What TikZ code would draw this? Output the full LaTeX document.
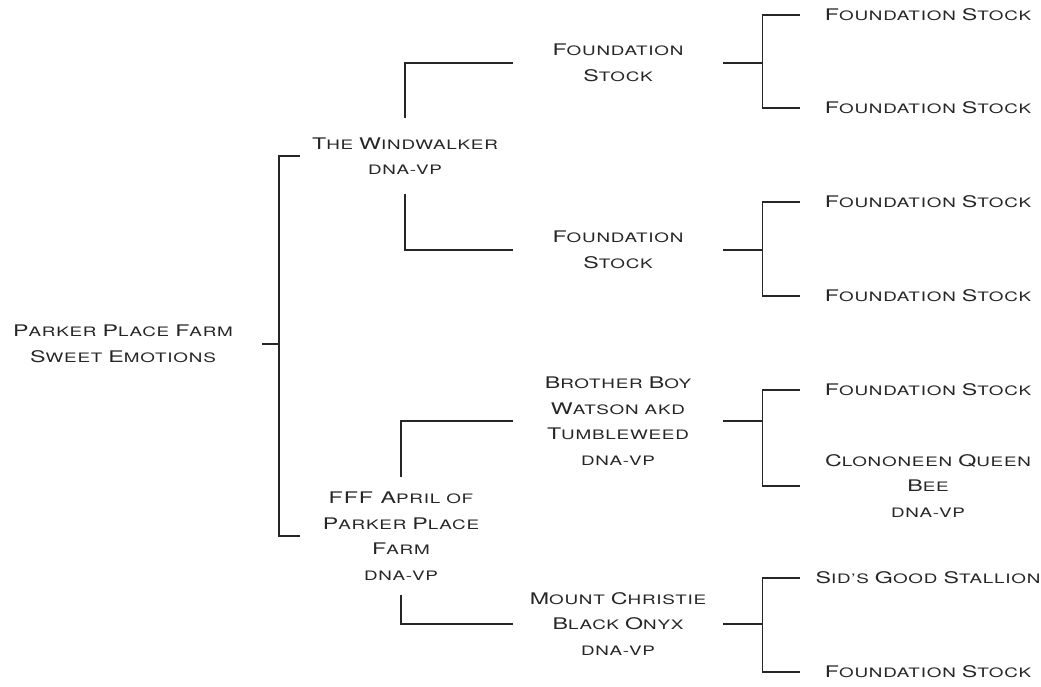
\documentclass[tikz,border=0pt]{standalone}
\usepackage{fontspec}
\setmainfont{TeX Gyre Heros}[FakeStretch=1.45,LetterSpace=6]
\usetikzlibrary{calc}
\newcommand\hcap[1]{{\fontsize{16}{25.5}\selectfont#1}}

\begin{document}
\begin{tikzpicture}[x=1pt, y=-1pt,
    horse/.style={align=center, inner sep=0pt, text=black!85,
        font=\fontsize{13}{25.5}\selectfont},
    sire/.style={horse, minimum width=210pt},
    grand/.style={horse, minimum width=210pt},
    great/.style={horse, minimum width=256pt},
    bar/.style={draw=black!85, line width=1.2pt}]
\useasboundingbox (0,0) rectangle (1041,686);
\node[horse, inner xsep=29pt] (root) at (123,344) {\hcap{P}ARKER \hcap{P}LACE \hcap{F}ARM\\\hcap{S}WEET \hcap{E}MOTIONS};
\node[sire, inner ysep=19pt] (wind) at (405,156) {\hcap{T}HE \hcap{W}INDWALKER\\DNA-VP};
\node[sire, minimum width=202pt, inner ysep=15pt] (april) at (401,536) {\hcap{FFF A}PRIL OF\\\hcap{P}ARKER \hcap{P}LACE\\\hcap{F}ARM\\DNA-VP};
\node[grand] (fsa) at (618,63) {\hcap{F}OUNDATION\\\hcap{S}TOCK};
\node[grand] (fsb) at (618,250) {\hcap{F}OUNDATION\\\hcap{S}TOCK};
\node[grand] (bb) at (618,421) {\hcap{B}ROTHER \hcap{B}OY\\\hcap{W}ATSON AKD\\\hcap{T}UMBLEWEED\\DNA-VP};
\node[grand] (mc) at (618,624) {\hcap{M}OUNT \hcap{C}HRISTIE\\\hcap{B}LACK \hcap{O}NYX\\DNA-VP};
\node[great] (ga) at (928,15) {\hcap{F}OUNDATION \hcap{S}TOCK};
\node[great] (gb) at (928,108) {\hcap{F}OUNDATION \hcap{S}TOCK};
\node[great] (gc) at (928,202) {\hcap{F}OUNDATION \hcap{S}TOCK};
\node[great] (gd) at (928,296) {\hcap{F}OUNDATION \hcap{S}TOCK};
\node[great] (ge) at (928,390) {\hcap{F}OUNDATION \hcap{S}TOCK};
\node[great] (gf) at (928,486) {\hcap{C}LONONEEN \hcap{Q}UEEN\\\hcap{B}EE\\DNA-VP};
\node[great] (gg) at (928,578) {\hcap{S}ID'S \hcap{G}OOD \hcap{S}TALLION};
\node[great] (gh) at (928,672) {\hcap{F}OUNDATION \hcap{S}TOCK};
\coordinate (r) at (279,347);
\draw[bar] (root.east) -- (root.east -| r);
\draw[bar] (wind.west) -| (r) |- (april.west);
\draw[bar] (wind.north) |- (fsa.west);
\draw[bar] (wind.south) |- (fsb.west);
\draw[bar] (april.north) |- (bb.west);
\draw[bar] (april.south) |- (mc.west);
\foreach \g/\a/\b in {fsa/ga/gb, fsb/gc/gd, bb/ge/gf, mc/gg/gh}
    \draw[bar] (\g.east) -- ++(39,0) coordinate (k) (\a.west) -| (k) |- (\b.west);
\end{tikzpicture}
\end{document}
